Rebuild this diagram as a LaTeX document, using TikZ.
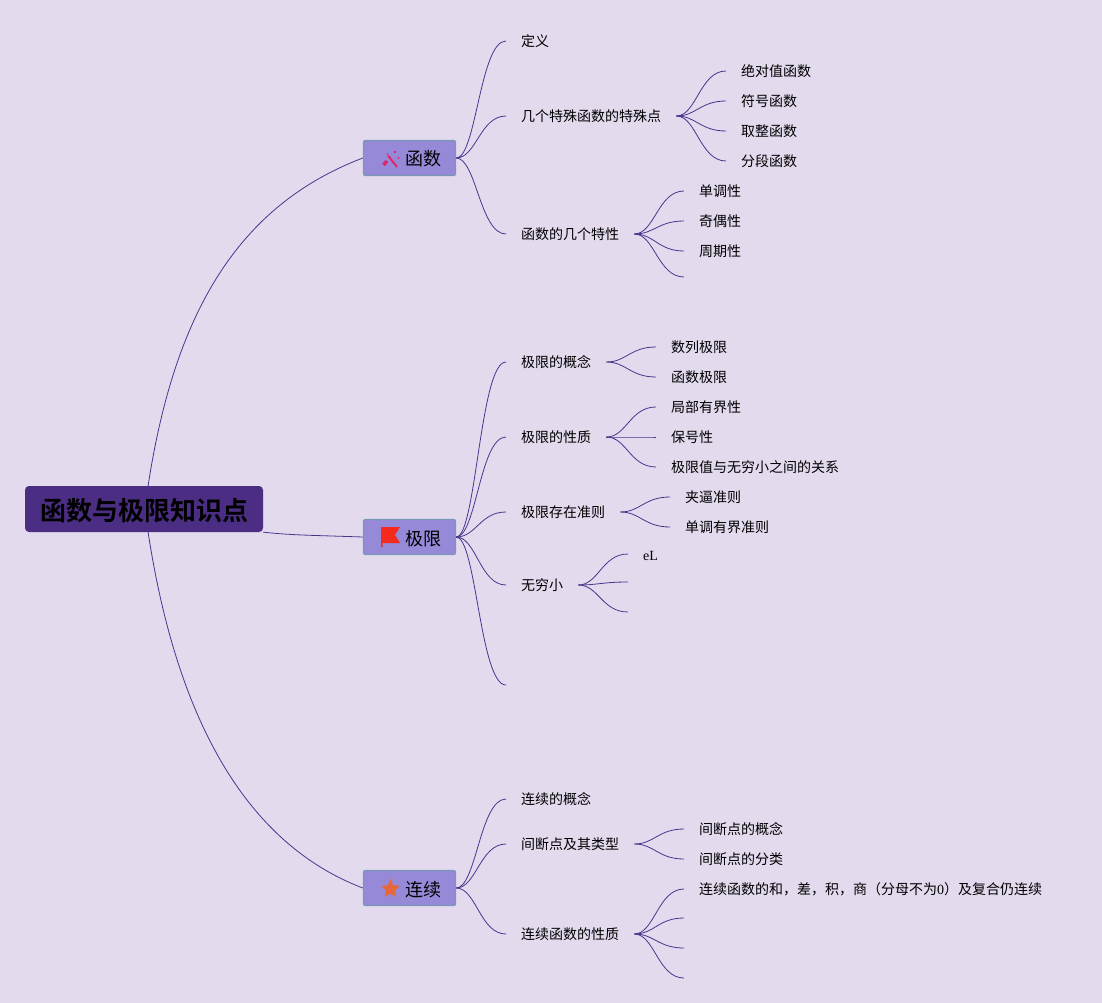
\documentclass[tikz,border=0pt]{standalone}
\usepackage{fontspec}
\setmainfont{Liberation Serif}
\newfontfamily\cjk[BoldFont={Noto Sans CJK SC Bold}]{Noto Sans CJK SC}
\usetikzlibrary{shapes.geometric}
\definecolor{bgcol}{HTML}{E3DAEE}
\definecolor{linkcol}{HTML}{47378C}
\definecolor{rootcol}{HTML}{4B2E83}
\definecolor{boxcol}{HTML}{9689D8}
\definecolor{boxline}{HTML}{7A97B5}
\definecolor{wandcol}{HTML}{E0246E}
\definecolor{flagcol}{HTML}{F52A1E}
\definecolor{starcol}{HTML}{E8673A}
\tikzset{
  rootnode/.style={fill=rootcol,rounded corners=4pt,minimum width=238pt,minimum height=46pt,inner sep=0pt,text height=22pt,text depth=0pt,font=\cjk\bfseries\fontsize{26}{30}\selectfont},
  topic/.style={fill=boxcol,draw=boxline,line width=1.4pt,rounded corners=2pt,minimum width=92pt,minimum height=35pt,inner sep=0pt,text height=16pt,text depth=0pt,font=\cjk\fontsize{18}{22}\selectfont},
  item/.style={anchor=west,inner xsep=15pt,inner ysep=0pt,text height=11pt,text depth=0pt,font=\cjk\fontsize{14}{17}\selectfont},
  link/.style={draw=linkcol,line width=0.8pt,out=0,in=180,out distance=20pt,in distance=26pt},
  rootlink/.style={draw=linkcol,line width=0.8pt}
}
\begin{document}
\begin{tikzpicture}[x=1pt,y=-1pt]
\fill [bgcol] (0,0) rectangle (1102,1003);
\node[rootnode] (root) at (144,509) {函数与极限知识点};
\node[topic] (fn) at (409.5,158) {\hspace*{27pt}函数};
\node[topic] (lim) at (409.5,537) {\hspace*{27pt}极限};
\node[topic] (cont) at (409.5,888) {\hspace*{27pt}连续};
% first branch
\node[item] (def) at (506,41) {定义};
\node[item] (special) at (506,116) {几个特殊函数的特殊点};
\node[item] (prop) at (506,234) {函数的几个特性};
\node[item] (abs) at (726,71) {绝对值函数};
\node[item] (sign) at (726,101) {符号函数};
\node[item] (floor) at (726,131) {取整函数};
\node[item] (piece) at (726,161) {分段函数};
\node[item] (mono) at (684,191) {单调性};
\node[item] (odd) at (684,221) {奇偶性};
\node[item] (period) at (684,251) {周期性};
\coordinate (propx) at (684,277);
% second branch
\node[item] (limdef) at (506,362) {极限的概念};
\node[item] (limprop) at (506,437) {极限的性质};
\node[item] (limrule) at (506,512) {极限存在准则};
\node[item] (small) at (506,585) {无穷小};
\coordinate (limx) at (506,685);
\node[item] (seq) at (656,347) {数列极限};
\node[item] (fnlim) at (656,377) {函数极限};
\node[item] (local) at (656,407) {局部有界性};
\node[item] (keep) at (656,437) {保号性};
\node[item] (rel) at (656,467) {极限值与无穷小之间的关系};
\node[item] (squeeze) at (670,497) {夹逼准则};
\node[item] (bound) at (670,527) {单调有界准则};
\node[item] (el) at (628,555) {\rmfamily eL};
\coordinate (elend) at (628,554);
\coordinate (smallb) at (628,582);
\coordinate (smallc) at (628,612);
% third branch
\node[item] (contdef) at (506,799) {连续的概念};
\node[item] (jump) at (506,844) {间断点及其类型};
\node[item] (contprop) at (506,934) {连续函数的性质};
\node[item] (jumpdef) at (684,829) {间断点的概念};
\node[item] (jumpcls) at (684,859) {间断点的分类};
\node[item] (sum) at (684,889) {连续函数的和，差，积，商（分母不为{\rmfamily 0}）及复合仍连续};
\coordinate (contb) at (684,918);
\coordinate (contc) at (684,948);
\coordinate (contd) at (684,978);

\draw [rootlink] (root.80) .. controls +(27,-176) and +(-123,47) .. (fn.west);
\draw [rootlink] (root.south east) .. controls +(30,3) and +(-60,-2) .. (lim.west);
\draw [rootlink] (root.-80) .. controls +(27,176) and +(-123,-47) .. (cont.west);

\draw [link] (fn.east) to (def.west);
\draw [link] (fn.east) to (special.west);
\draw [link] (fn.east) to (prop.west);
\draw [link] (special.east) to (abs.west);
\draw [link] (special.east) to (sign.west);
\draw [link] (special.east) to (floor.west);
\draw [link] (special.east) to (piece.west);
\draw [link] (prop.east) to (mono.west);
\draw [link] (prop.east) to (odd.west);
\draw [link] (prop.east) to (period.west);
\draw [link] (prop.east) to (propx);

\draw [link] (lim.east) to (limdef.west);
\draw [link] (lim.east) to (limprop.west);
\draw [link] (lim.east) to (limrule.west);
\draw [link] (lim.east) to (small.west);
\draw [link] (lim.east) to (limx);
\draw [link] (limdef.east) to (seq.west);
\draw [link] (limdef.east) to (fnlim.west);
\draw [link] (limprop.east) to (local.west);
\draw [link] (limprop.east) to (keep.west);
\draw [link] (limprop.east) to (rel.west);
\draw [link] (limrule.east) to (squeeze.west);
\draw [link] (limrule.east) to (bound.west);
\draw [link] (small.east) to (elend);
\draw [link] (small.east) to (smallb);
\draw [link] (small.east) to (smallc);

\draw [link] (cont.east) to (contdef.west);
\draw [link] (cont.east) to (jump.west);
\draw [link] (cont.east) to (contprop.west);
\draw [link] (jump.east) to (jumpdef.west);
\draw [link] (jump.east) to (jumpcls.west);
\draw [link] (contprop.east) to (sum.west);
\draw [link] (contprop.east) to (contb);
\draw [link] (contprop.east) to (contc);
\draw [link] (contprop.east) to (contd);

% icons
\draw [wandcol,line width=2pt] (388,155.5) -- (397,167);
\draw [wandcol,line width=3.4pt] (383.5,165) -- (387,161);
\fill [wandcol] (395,152) circle (1.4pt) (398.5,158) circle (1.1pt) (387.5,154) circle (0.9pt);
\fill [flagcol] (381,527) -- (400,527) -- (395,535) -- (400,543) -- (382.5,543) -- (382.5,547) -- (381,547) -- cycle;
\node[star,star points=5,star point ratio=2.2,fill=starcol,inner sep=0pt,minimum size=20pt] (staricon) at (390.5,889) {};
\end{tikzpicture}
\end{document}
